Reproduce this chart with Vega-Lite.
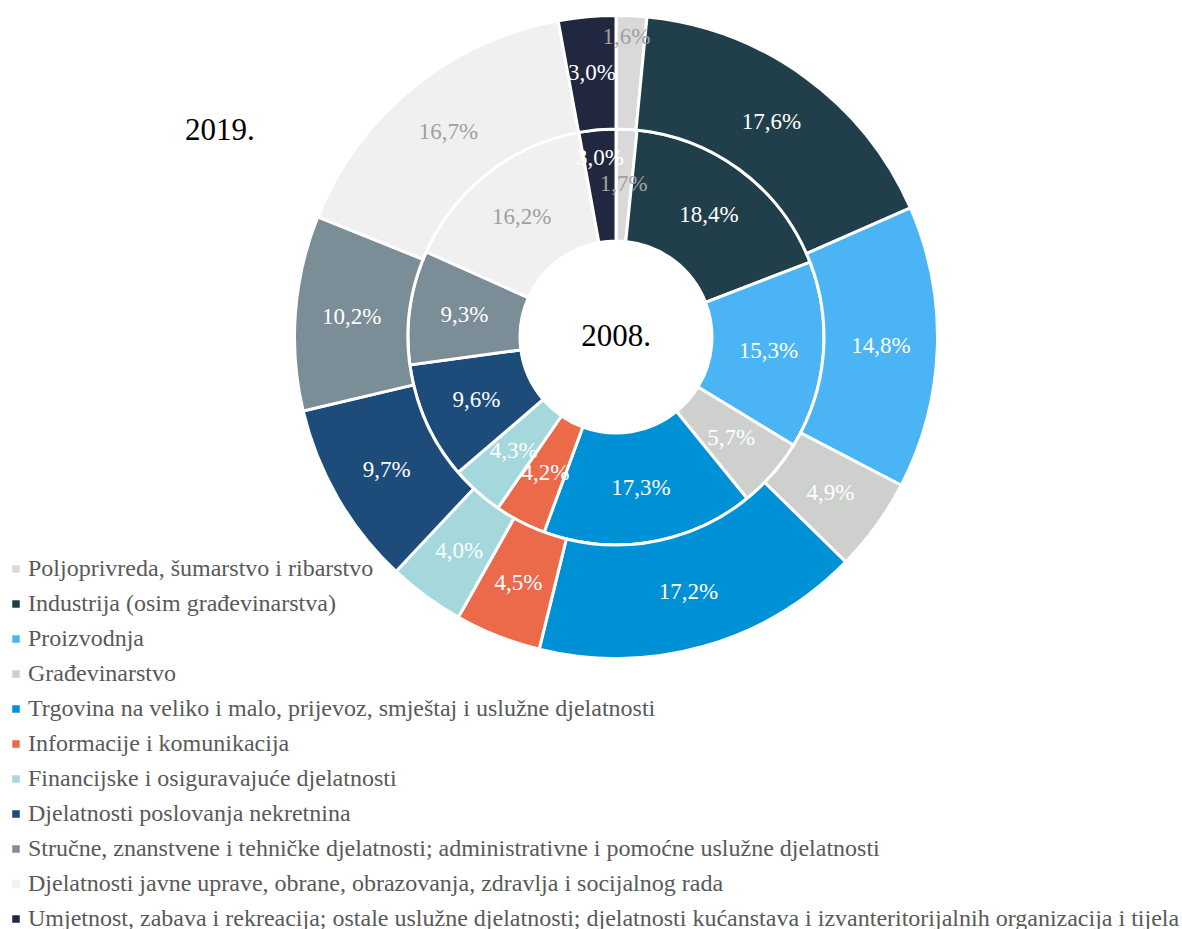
{
  "$schema": "https://vega.github.io/schema/vega-lite/v6.json",
  "width": 640,
  "height": 640,
  "autosize": "none",
  "padding": {"left": 296, "top": 17, "right": 246, "bottom": 272},
  "background": "white",
  "config": {"view": {"stroke": null}},
  "title": {
    "text": "2019.",
    "anchor": "start",
    "frame": "group",
    "orient": "top",
    "offset": 0,
    "dx": -111,
    "dy": 161,
    "baseline": "alphabetic",
    "font": "Liberation Serif",
    "fontSize": 31,
    "fontWeight": "normal",
    "color": "#000000"
  },
  "datasets": {
    "shares": [
      {"year": 2008, "idx": 1, "category": "Poljoprivreda, šumarstvo i ribarstvo", "value": 1.7, "label": "1,7%"},
      {"year": 2008, "idx": 2, "category": "Industrija (osim građevinarstva)", "value": 18.4, "label": "18,4%"},
      {"year": 2008, "idx": 3, "category": "Proizvodnja", "value": 15.3, "label": "15,3%"},
      {"year": 2008, "idx": 4, "category": "Građevinarstvo", "value": 5.7, "label": "5,7%"},
      {"year": 2008, "idx": 5, "category": "Trgovina na veliko i malo, prijevoz, smještaj i uslužne djelatnosti", "value": 17.3, "label": "17,3%"},
      {"year": 2008, "idx": 6, "category": "Informacije i komunikacija", "value": 4.2, "label": "4,2%"},
      {"year": 2008, "idx": 7, "category": "Financijske i osiguravajuće djelatnosti", "value": 4.3, "label": "4,3%"},
      {"year": 2008, "idx": 8, "category": "Djelatnosti poslovanja nekretnina", "value": 9.6, "label": "9,6%"},
      {"year": 2008, "idx": 9, "category": "Stručne, znanstvene i tehničke djelatnosti; administrativne i pomoćne uslužne djelatnosti", "value": 9.3, "label": "9,3%"},
      {"year": 2008, "idx": 10, "category": "Djelatnosti javne uprave, obrane, obrazovanja, zdravlja i socijalnog rada", "value": 16.2, "label": "16,2%"},
      {"year": 2008, "idx": 11, "category": "Umjetnost, zabava i rekreacija; ostale uslužne djelatnosti; djelatnosti kućanstava i izvanteritorijalnih organizacija i tijela", "value": 3.0, "label": "3,0%"},
      {"year": 2019, "idx": 1, "category": "Poljoprivreda, šumarstvo i ribarstvo", "value": 1.6, "label": "1,6%"},
      {"year": 2019, "idx": 2, "category": "Industrija (osim građevinarstva)", "value": 17.6, "label": "17,6%"},
      {"year": 2019, "idx": 3, "category": "Proizvodnja", "value": 14.8, "label": "14,8%"},
      {"year": 2019, "idx": 4, "category": "Građevinarstvo", "value": 4.9, "label": "4,9%"},
      {"year": 2019, "idx": 5, "category": "Trgovina na veliko i malo, prijevoz, smještaj i uslužne djelatnosti", "value": 17.2, "label": "17,2%"},
      {"year": 2019, "idx": 6, "category": "Informacije i komunikacija", "value": 4.5, "label": "4,5%"},
      {"year": 2019, "idx": 7, "category": "Financijske i osiguravajuće djelatnosti", "value": 4.0, "label": "4,0%"},
      {"year": 2019, "idx": 8, "category": "Djelatnosti poslovanja nekretnina", "value": 9.7, "label": "9,7%"},
      {"year": 2019, "idx": 9, "category": "Stručne, znanstvene i tehničke djelatnosti; administrativne i pomoćne uslužne djelatnosti", "value": 10.2, "label": "10,2%"},
      {"year": 2019, "idx": 10, "category": "Djelatnosti javne uprave, obrane, obrazovanja, zdravlja i socijalnog rada", "value": 16.7, "label": "16,7%"},
      {"year": 2019, "idx": 11, "category": "Umjetnost, zabava i rekreacija; ostale uslužne djelatnosti; djelatnosti kućanstava i izvanteritorijalnih organizacija i tijela", "value": 3.0, "label": "3,0%"}
    ]
  },
  "layer": [
    {
      "data": {"name": "shares"},
      "encoding": {
        "theta": {"field": "value", "type": "quantitative", "stack": "normalize"},
        "order": {"field": "idx", "type": "quantitative"},
        "color": {
          "field": "category",
          "type": "nominal",
          "scale": {
            "domain": [
              "Poljoprivreda, šumarstvo i ribarstvo",
              "Industrija (osim građevinarstva)",
              "Proizvodnja",
              "Građevinarstvo",
              "Trgovina na veliko i malo, prijevoz, smještaj i uslužne djelatnosti",
              "Informacije i komunikacija",
              "Financijske i osiguravajuće djelatnosti",
              "Djelatnosti poslovanja nekretnina",
              "Stručne, znanstvene i tehničke djelatnosti; administrativne i pomoćne uslužne djelatnosti",
              "Djelatnosti javne uprave, obrane, obrazovanja, zdravlja i socijalnog rada",
              "Umjetnost, zabava i rekreacija; ostale uslužne djelatnosti; djelatnosti kućanstava i izvanteritorijalnih organizacija i tijela"
            ],
            "range": ["#D9D9D9", "#213F4A", "#4BB4F5", "#CDD0CC", "#0090D5", "#EB6A4A", "#A5D8DD", "#1D4B7A", "#7B8D97", "#F0F0F0", "#20273F"]
          },
          "legend": {
            "title": null,
            "orient": "none",
            "legendX": -292,
            "legendY": 540,
            "symbolType": "square",
            "symbolSize": 56,
            "symbolStrokeWidth": 0,
            "labelFont": "Liberation Serif",
            "labelFontSize": 24,
            "labelColor": "#595959",
            "labelLimit": 1300,
            "labelOffset": 0,
            "rowPadding": 11
          }
        }
      },
      "layer": [
        {
          "transform": [{"filter": "datum.year == 2008"}],
          "mark": {"type": "arc", "innerRadius": 96, "outerRadius": 208, "stroke": "white", "strokeWidth": 3}
        },
        {
          "transform": [{"filter": "datum.year == 2008"}],
          "mark": {"type": "text", "radius": 153, "font": "Liberation Serif", "fontSize": 23, "baseline": "middle", "align": "center"},
          "encoding": {
            "text": {"condition": {"test": "datum.idx != 11", "field": "label"}, "value": ""},
            "fill": {"condition": {"test": "datum.idx == 1 || datum.idx == 10", "value": "#A0A0A0"}, "value": "#FFFFFF"}
          }
        },
        {
          "transform": [{"filter": "datum.year == 2008"}],
          "mark": {"type": "text", "radius": 180, "font": "Liberation Serif", "fontSize": 23, "baseline": "middle", "align": "center"},
          "encoding": {
            "text": {"condition": {"test": "datum.idx == 11", "field": "label"}, "value": ""},
            "fill": {"value": "#FFFFFF"}
          }
        },
        {
          "transform": [{"filter": "datum.year == 2019"}],
          "mark": {"type": "arc", "innerRadius": 208, "outerRadius": 321.5, "stroke": "white", "strokeWidth": 3}
        },
        {
          "transform": [{"filter": "datum.year == 2019"}],
          "mark": {"type": "text", "radius": 265, "font": "Liberation Serif", "fontSize": 23, "baseline": "middle", "align": "center"},
          "encoding": {
            "text": {"condition": {"test": "datum.idx != 1", "field": "label"}, "value": ""},
            "fill": {"condition": {"test": "datum.idx == 10", "value": "#A0A0A0"}, "value": "#FFFFFF"}
          }
        },
        {
          "transform": [{"filter": "datum.year == 2019"}],
          "mark": {"type": "text", "radius": 300, "dx": -4, "font": "Liberation Serif", "fontSize": 23, "baseline": "middle", "align": "center"},
          "encoding": {
            "text": {"condition": {"test": "datum.idx == 1", "field": "label"}, "value": ""},
            "fill": {"value": "#A0A0A0"}
          }
        }
      ]
    },
    {
      "data": {"values": [{"centre": "2008."}]},
      "mark": {"type": "text", "font": "Liberation Serif", "fontSize": 31, "baseline": "middle", "align": "center", "color": "#000000"},
      "encoding": {"text": {"field": "centre"}}
    }
  ]
}
